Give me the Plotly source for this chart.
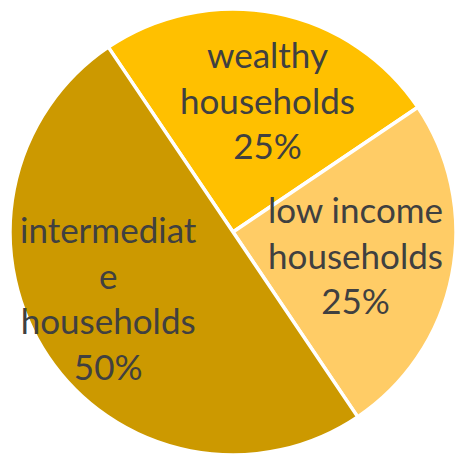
import math
import plotly.graph_objects as go

# Household categories and their shares (percent)
categories = ["wealthy households", "low income households", "intermediate households"]
shares = [25, 25, 50]
label_lines = [
    ["wealthy", "households"],
    ["low income", "households"],
    ["intermediat", "e", "households"],
]
colors = ["#FFC000", "#FFCC66", "#CC9900"]

W, H = 458, 459
CX, CY = 233, 227          # pie centre in px (y measured from bottom)
R = 223                    # pie radius in px
START = -34                # angle of first slice edge, degrees clockwise from 12 o'clock

fig = go.Figure(go.Pie(
    labels=categories,
    values=shares,
    sort=False,
    direction="clockwise",
    rotation=START,
    marker=dict(colors=colors, line=dict(color="white", width=3.5)),
    textinfo="none",
    hoverinfo="label+percent",
    showlegend=False,
    domain=dict(x=[(CX - R) / W, (CX + R) / W], y=[(CY - R) / H, (CY + R) / H]),
))

# Label placement: radial fraction and small angular nudge per slice
label_radius = [0.615, 0.56, 0.63]
label_nudge = [3.5, -0.5, 6]

total = sum(shares)
acc = 0.0
annotations = []
for i, v in enumerate(shares):
    mid = START + (acc + v / 2) / total * 360 + label_nudge[i]
    acc += v
    rr = R * label_radius[i]
    x = CX + rr * math.sin(math.radians(mid))
    y = CY + rr * math.cos(math.radians(mid))
    pct = f"{round(v / total * 100)}%"
    annotations.append(dict(
        x=x / W, y=y / H, xref="paper", yref="paper",
        xanchor="center", yanchor="middle",
        text="<br>".join(label_lines[i] + [pct]),
        showarrow=False,
        font=dict(family="Lato", size=35, color="#404040"),
    ))

fig.update_layout(
    width=W, height=H,
    margin=dict(l=0, r=0, t=0, b=0),
    paper_bgcolor="white",
    plot_bgcolor="white",
    annotations=annotations,
)

fig.write_html("out.html")
